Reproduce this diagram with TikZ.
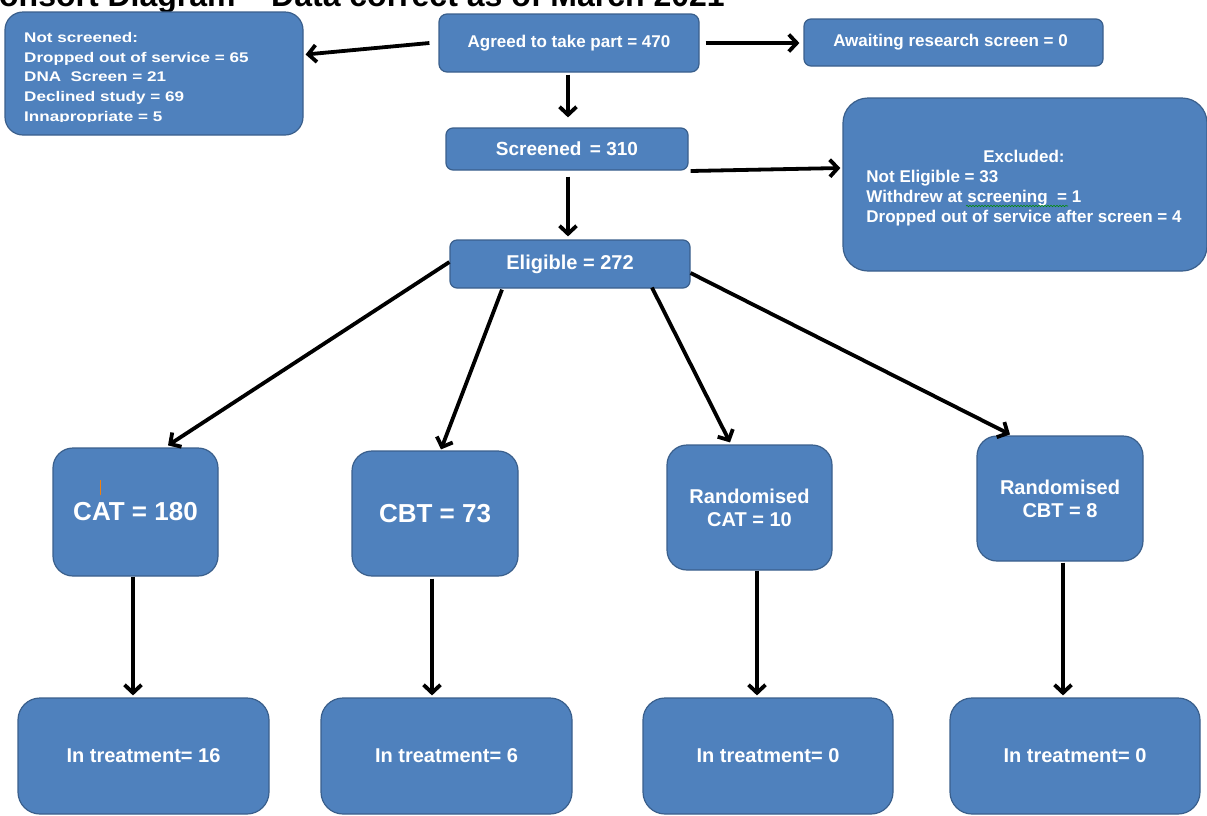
\documentclass[tikz,border=0pt]{standalone}
\usepackage{fontspec}
\setmainfont{Liberation Sans}
\newfontfamily\widefont[FakeStretch=1.22]{Liberation Sans}
\usetikzlibrary{arrows.meta,decorations.pathmorphing}
\definecolor{boxblue}{HTML}{4F81BD}
\definecolor{boxedge}{HTML}{3A5F8C}
\tikzset{
  box/.style={fill=boxblue, draw=boxedge, line width=1.2pt, text=white, font=\bfseries, align=center, inner sep=0pt},
  arr/.style={line width=3.8pt, -{Straight Barb[length=8pt,width=17pt]}},
}
\newcommand{\fs}[1]{\fontsize{#1}{#1}\selectfont}
\begin{document}
\begin{tikzpicture}[x=1pt,y=-1pt]
\useasboundingbox (0,0) rectangle (1207,815);
% title (cut by the page top)
\node[anchor=base east, inner sep=0pt, font=\bfseries\fs{32}] (title) at (725,6) {Consort Diagram -- Data correct as of March 2021};

% boxes
\node[box, minimum width=298pt, minimum height=123pt, rounded corners=18pt] (notscr) at (154,73.5) {};
\begin{scope}
\clip (5,12) rectangle (303,121.5);
\node[anchor=north west, inner sep=0pt, text=white, align=left, font=\widefont\bfseries\fontsize{14}{19.8}\selectfont] (nstext) at (24,32)
 {Not screened:\\Dropped out of service = 65\\DNA\ \ Screen = 21\\Declined study = 69\\Innapropriate = 5};
\end{scope}
\node[box, minimum width=260pt, minimum height=58pt, rounded corners=8pt, font=\bfseries\fs{17}] (agreed) at (569,43) {Agreed to take part = 470};
\node[box, minimum width=299pt, minimum height=47pt, rounded corners=7pt, font=\bfseries\fs{17}] (await) at (953.5,42.5) {\hspace*{-6pt}Awaiting research screen = 0};
\node[box, minimum width=242pt, minimum height=42pt, rounded corners=7pt, font=\bfseries\fs{19}] (screened) at (567,149) {Screened\ \,= 310};
\node[box, minimum width=364pt, minimum height=173pt, rounded corners=25pt] (excl) at (1025,184.5) {};
\node[inner sep=0pt, text=white, font=\bfseries\fontsize{17}{20}\selectfont] (excltext) at (1024,188)
 {\begin{tabular}{@{}l@{}}\multicolumn{1}{@{}c@{}}{Excluded:}\\Not Eligible = 33\\Withdrew at screening\ \ = 1\\Dropped out of service after screen = 4\end{tabular}};
\draw[green!55!black, line width=0.6pt, decorate, decoration={snake, amplitude=0.7pt, segment length=3pt}] (966,206) -- (1068,206);
\node[box, minimum width=240pt, minimum height=48pt, rounded corners=7pt, font=\bfseries\fs{20}] (elig) at (570,264) {Eligible = 272};

\node[box, minimum width=165pt, minimum height=128pt, rounded corners=20pt, font=\bfseries\fs{26}] (cat) at (135.5,512) {\raisebox{-3pt}{CAT = 180}};
\draw[orange!80!brown, line width=1pt] (100,480) -- (100,495);
\node[box, minimum width=166pt, minimum height=125pt, rounded corners=20pt, font=\bfseries\fs{26}] (cbt) at (435,513.5) {CBT = 73};
\node[box, minimum width=165pt, minimum height=125pt, rounded corners=20pt, font=\bfseries\fontsize{20}{23}\selectfont] (rcat) at (749.5,507.5) {Randomised\\CAT = 10};
\node[box, minimum width=166pt, minimum height=125pt, rounded corners=20pt, font=\bfseries\fontsize{20}{23}\selectfont] (rcbt) at (1060,498.5) {Randomised\\CBT = 8};

\node[box, minimum width=251pt, minimum height=116pt, rounded corners=22pt, font=\bfseries\fs{20}] (it1) at (143.5,756) {In treatment= 16};
\node[box, minimum width=251pt, minimum height=116pt, rounded corners=22pt, font=\bfseries\fs{20}] (it2) at (446.5,756) {In treatment= 6};
\node[box, minimum width=250pt, minimum height=116pt, rounded corners=22pt, font=\bfseries\fs{20}] (it3) at (768,756) {In treatment= 0};
\node[box, minimum width=250pt, minimum height=116pt, rounded corners=22pt, font=\bfseries\fs{20}] (it4) at (1075,756) {In treatment= 0};

% connectors
\draw[arr] ([shift={(-9,0)}]agreed.west) -- ([shift={(2,-19)}]notscr.east);
\draw[arr] ([shift={(6,0)}]agreed.east) -- ([shift={(-4,0.5)}]await.west);
\draw[arr] ([shift={(-1,2)}]agreed.south) -- ([shift={(1,-10)}]screened.north);
\draw[arr] ([shift={(2,22)}]screened.east) -- ([shift={(-2,-16.5)}]excl.west);
\draw[arr] ([shift={(1,6)}]screened.south) -- ([shift={(-2,-3)}]elig.north);
\draw[arr] ([shift={(0,-2)}]elig.west) -- ([shift={(32.5,-2)}]cat.north);
\draw[arr] ([shift={(-68,1)}]elig.south) -- ([shift={(6,-1)}]cbt.north);
\draw[arr] ([shift={(82,-1)}]elig.south) -- ([shift={(-19.5,-2)}]rcat.north);
\draw[arr] ([shift={(0,9)}]elig.east) -- ([shift={(-50,-1)}]rcbt.north);
\draw[arr] ([shift={(-2.5,0)}]cat.south) -- ([shift={(-10.5,-2)}]it1.north);
\draw[arr] ([shift={(-3,2)}]cbt.south) -- ([shift={(-14.5,-2)}]it2.north);
\draw[arr] ([shift={(7.5,0)}]rcat.south) -- ([shift={(-11,-2)}]it3.north);
\draw[arr] ([shift={(3,1)}]rcbt.south) -- ([shift={(-12,-2)}]it4.north);
\end{tikzpicture}
\end{document}
